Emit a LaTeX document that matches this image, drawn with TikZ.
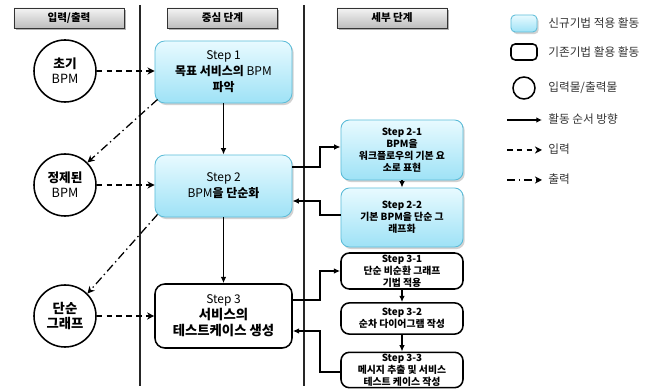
\documentclass[tikz,border=0pt]{standalone}
\usepackage{fontspec}
\setmainfont{Noto Sans CJK KR}
\usetikzlibrary{arrows.meta,shadows,positioning}
\definecolor{cyantop}{HTML}{E8FAFF}
\definecolor{cyanbot}{HTML}{9EE2F6}
\definecolor{cyanline}{HTML}{5CBCD8}
\definecolor{hdrtop}{HTML}{F4F4F4}
\definecolor{hdrbot}{HTML}{BDBDBD}
\tikzset{
  hdr/.style={draw=black!80, line width=0.6pt, top color=hdrtop, bottom color=hdrbot,
    minimum width=2.75cm, minimum height=0.5cm, inner sep=0pt,
    font=\fontsize{7.5}{9}\selectfont\bfseries,
    drop shadow={shadow xshift=1.2pt, shadow yshift=-1.2pt, fill=black!50, opacity=0.6}},
  newbox/.style={draw=cyanline, line width=0.6pt, rounded corners=7pt, top color=cyantop, bottom color=cyanbot,
    align=center, inner sep=1pt,
    drop shadow={shadow xshift=1.2pt, shadow yshift=-1.5pt, fill=black!35, opacity=0.5}},
  oldbox/.style={draw=black, line width=1.1pt, rounded corners=7pt, fill=white, align=center, inner sep=1pt},
  iocirc/.style={draw=black, line width=1.1pt, circle, minimum size=1.55cm, inner sep=0pt, align=center,
    font=\fontsize{9}{10.5}\selectfont},
  flow/.style={line width=1.3pt, -{Latex[length=4.5pt,width=4pt]}},
  inarrow/.style={line width=0.9pt, dash pattern=on 4pt off 3pt, -{Stealth[length=5pt,width=5pt,inset=1.5pt]}},
  outarrow/.style={line width=0.9pt, dash pattern=on 6pt off 2.5pt on 1pt off 2.5pt, -{Stealth[length=5pt,width=5pt,inset=1.5pt]}},
  lane/.style={line width=1pt, black!85},
  legtext/.style={anchor=west, inner sep=0pt, text=black!80, font=\fontsize{8.3}{9.5}\selectfont},
  mainfont/.style={font=\fontsize{8.5}{11.4}\selectfont},
  smallfont/.style={font=\fontsize{7}{8.6}\selectfont\bfseries}
}
\begin{document}
\begin{tikzpicture}[x=0.025cm,y=-0.025cm]
\useasboundingbox (0,0) rectangle (660,392);
% headers
\node[hdr] (h1) at (69,18) {입력/출력};
\node[hdr] (h2) at (222.5,18) {중심 단계};
\node[hdr] (h3) at (392,18) {세부 단계};
% lanes
\draw[lane] (140,5) -- (140,386);
\draw[lane] (304,5) -- (304,386);
% circles
\node[iocirc] (c1) at (65,71) {\textbf{초기}\\BPM};
\node[iocirc] (c2) at (65,185) {\textbf{정제된}\\BPM};
\node[iocirc] (c3) at (65,316) {\textbf{\fontsize{9.5}{11.5}\selectfont 단순}\\\textbf{\fontsize{9.5}{11.5}\selectfont 그래프}};
% main steps
\node[newbox, mainfont, minimum width=3.425cm, minimum height=1.55cm] (s1) at (223.5,72)
  {Step 1\\\textbf{목표 서비스의} BPM\\\textbf{파악}};
\node[newbox, mainfont, minimum width=3.425cm, minimum height=1.55cm] (s2) at (223.5,186)
  {Step 2\\BPM\textbf{을 단순화}};
\node[oldbox, mainfont, minimum width=3.425cm, minimum height=1.6cm] (s3) at (223.5,316)
  {Step 3\\\textbf{\fontsize{9.5}{11.4}\selectfont 서비스의}\\\textbf{\fontsize{9.5}{11.4}\selectfont 테스트케이스 생성}};
% detail steps
\node[newbox, smallfont, minimum width=3.05cm, minimum height=1.5cm, rounded corners=6pt] (s21) at (402,150)
  {Step 2-1\\BPM을\\워크플로우의 기본 요\\소로 표현};
\node[newbox, smallfont, minimum width=3.05cm, minimum height=1.475cm, rounded corners=6pt] (s22) at (402,217.5)
  {Step 2-2\\기본 BPM을 단순 그\\래프화};
\node[oldbox, smallfont, minimum width=3.05cm, minimum height=0.9cm, rounded corners=6pt] (s31) at (402,271)
  {Step 3-1\\단순 비순환 그래프\\기법 적용};
\node[oldbox, smallfont, minimum width=3.05cm, minimum height=0.78cm, rounded corners=6pt] (s32) at (402,318.5)
  {Step 3-2\\순차 다이어그램 작성};
\node[oldbox, smallfont, minimum width=3.05cm, minimum height=0.8cm, rounded corners=6pt] (s33) at (402,370)
  {Step 3-3\\메시지 추출 및 서비스\\테스트 케이스 작성};
% flow arrows
\draw[flow] (s1) -- (s2);
\draw[flow] (s2) -- (s3);
\draw[flow] (s21) -- (s22);
\draw[flow] (s31) -- (s32);
\draw[flow] (s32) -- (s33);
\draw[flow] (s2.east |- 0,167) -- (320,167) |- (s21.west |- 0,147);
\draw[flow] (s22.west |- 0,215) -- (320,215) |- (s2.east |- 0,201);
\draw[flow] (s3.east |- 0,300) -- (320,300) |- (s31.west |- 0,271);
\draw[flow] (s33.west |- 0,372) -- (320,372) |- (s3.east |- 0,331);
% input arrows
\draw[inarrow] (c1) -- (s1.west |- c1);
\draw[inarrow] (c2) -- (s2.west |- c2);
\draw[inarrow] (c3) -- (s3.west |- c3);
% output arrows
\draw[outarrow] ([shift={(3,-4)}]s1.south west) -- (c2.45);
\draw[outarrow] ([shift={(3,-3)}]s2.south west) -- (c3.45);
% legend
\node[newbox, minimum width=0.65cm, minimum height=0.425cm, rounded corners=3pt] (l1) at (524,23.5) {};
\node[legtext] (t1) at (548,23.5) {신규기법 적용 활동};
\node[draw=black, line width=1.1pt, rounded corners=3pt, minimum width=0.65cm, minimum height=0.4cm] (l2) at (524,52) {};
\node[legtext] (t2) at (548,52) {기존기법 활용 활동};
\node[draw=black, line width=1.1pt, circle, minimum size=0.55cm, inner sep=0pt] (l3) at (524,88) {};
\node[legtext] (t3) at (548,88) {입력물/출력물};
\coordinate (a1) at (507,120); \coordinate (b1) at (542,120);
\draw[line width=1pt, -{Latex[length=4pt,width=4pt]}] (a1) -- (b1);
\node[legtext] (t4) at (548,119) {활동 순서 방향};
\coordinate (a2) at (507,150); \coordinate (b2) at (542,150);
\draw[inarrow] (a2) -- (b2);
\node[legtext] (t5) at (548,149) {입력};
\coordinate (a3) at (507,180); \coordinate (b3) at (542,180);
\draw[outarrow] (a3) -- (b3);
\node[legtext] (t6) at (548,179) {출력};
\end{tikzpicture}
\end{document}
